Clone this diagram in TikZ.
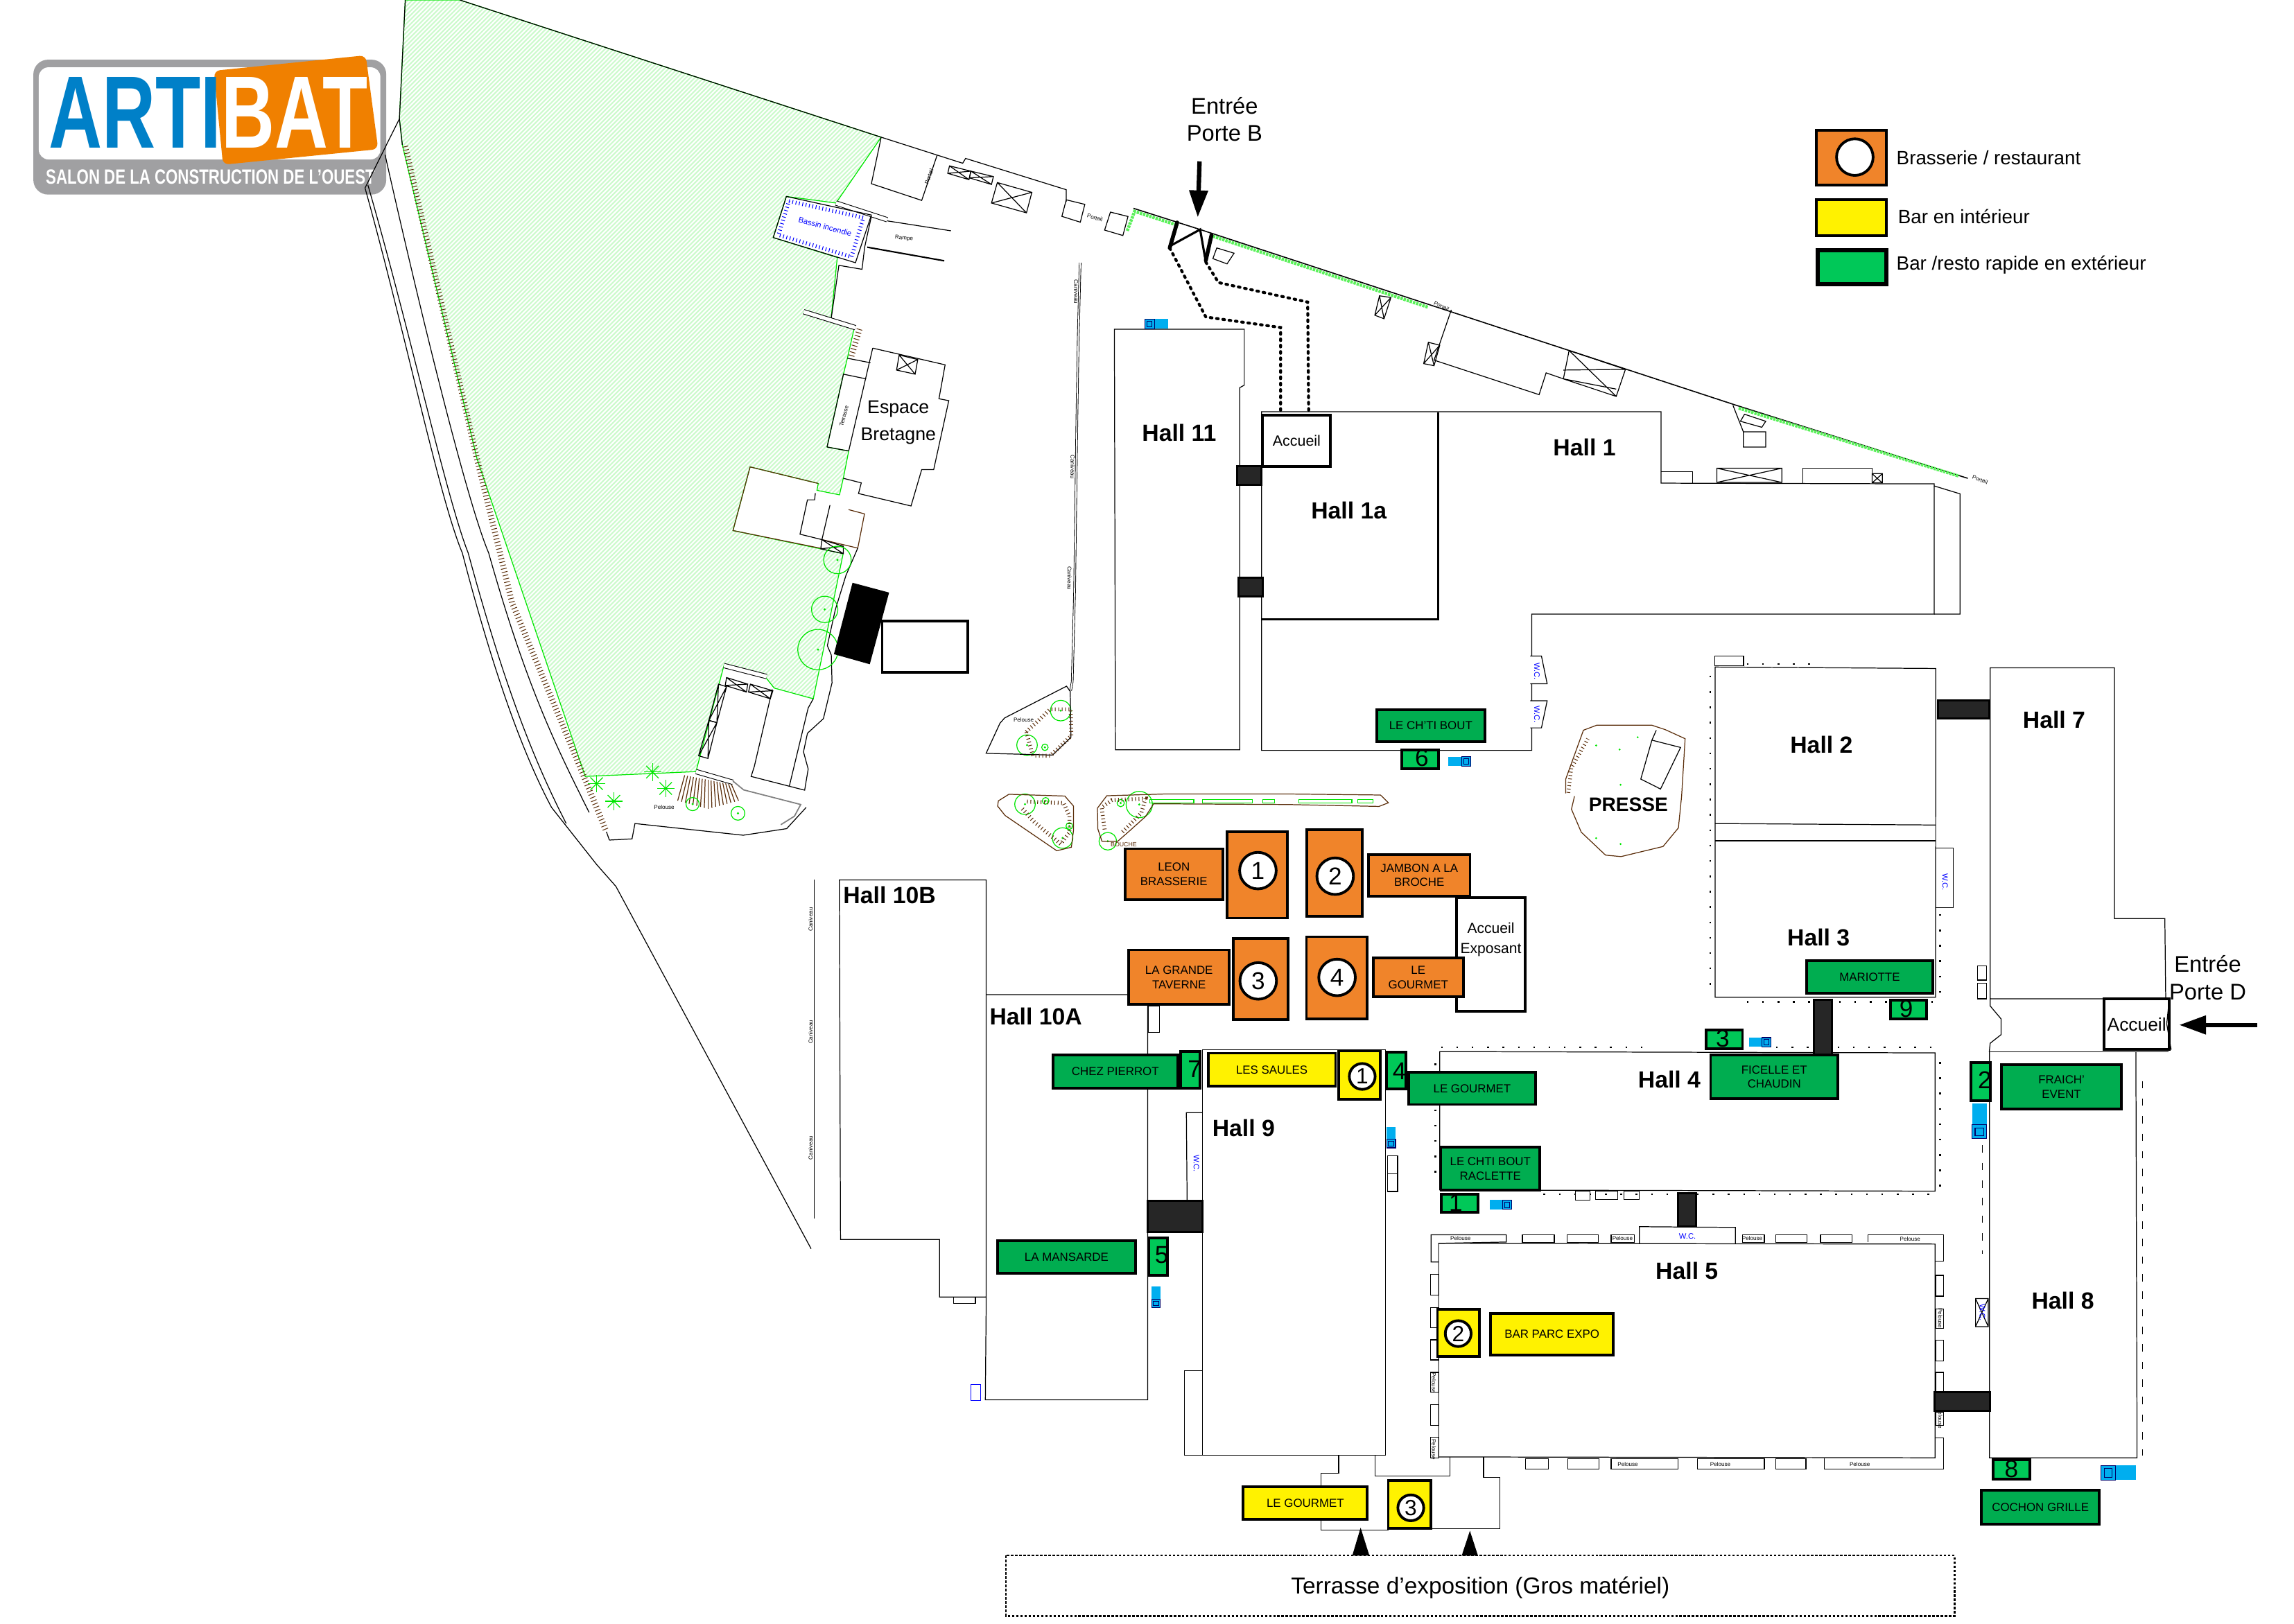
\documentclass[tikz,border=0pt]{standalone}
\usepackage{graphicx}
\usepackage{fontspec}
\setmainfont{Liberation Sans}
\usepackage{tikz}
\usetikzlibrary{arrows.meta}
\usetikzlibrary{calc}
\definecolor{orangebar}{RGB}{240,132,42}
\definecolor{logoorange}{RGB}{240,128,0}
\definecolor{logoblue}{RGB}{0,128,200}
\definecolor{logogray}{RGB}{160,160,162}
\definecolor{greenbar}{RGB}{0,173,80}
\definecolor{greensmall}{RGB}{0,200,88}
\definecolor{darkbridge}{RGB}{38,38,38}
\definecolor{truckblue}{RGB}{0,174,239}
\definecolor{lawnstripe}{RGB}{204,250,204}
\definecolor{treegreen}{RGB}{0,230,0}
\definecolor{hedgegreen}{RGB}{90,240,90}
\definecolor{hedgebrown}{RGB}{90,45,10}
\tikzset{
    thinwall/.style={draw=black, line width=.35pt},
    thickwall/.style={draw=black, line width=1.1pt},
    brownline/.style={draw=hedgebrown, line width=.35pt},
    treeline/.style={draw=treegreen, line width=.35pt},
    hedgeline/.style={draw=hedgegreen, line width=1.3pt, dash pattern=on 1pt off .35pt},
    tickrow/.style={line width=2.4pt, dash pattern=on .3pt off 1.1pt},
    dotrow/.style={draw=black, line width=.7pt, dash pattern=on .7pt off 5.6pt},
    wallband/.style={draw=black, line width=.3pt, double=white, double distance=1.5pt},
    orangebox/.style={draw=black, line width=1.1pt, fill=orangebar},
    yellowbox/.style={draw=black, line width=1.1pt, fill=yellow},
    greenbox/.style={draw=black, line width=1.1pt, fill=greenbar},
    smallbox/.style={draw=black, line width=1.1pt, fill=greensmall},
    whitebox/.style={draw=black, line width=1.1pt, fill=white},
    bridgebox/.style={draw=black, line width=.9pt, fill=darkbridge},
    boxlabel/.style={inner sep=0pt, align=center, font=\fontsize{4.8}{5.8}\selectfont},
    halllabel/.style={inner sep=0pt, font=\bfseries\fontsize{9.6}{11}\selectfont},
    plainlabel/.style={inner sep=0pt, align=center, font=\fontsize{9.3}{11.3}\selectfont},
    legendlabel/.style={inner sep=0pt, anchor=west, font=\fontsize{7.9}{10}\selectfont},
    digitlabel/.style={inner sep=0pt, font=\fontsize{10}{12}\selectfont},
    tinylabel/.style={inner sep=0pt, font=\fontsize{2.3}{3}\selectfont},
    bluelabel/.style={inner sep=0pt, text=blue, font=\fontsize{3.2}{4}\selectfont},
    numcircle/.style={draw=black, line width=1.1pt, fill=white},
    accesspath/.style={draw=black, line width=1.2pt, line cap=round, dash pattern=on .7pt off 1.9pt},
    enterarrow/.style={draw=black, line width=1.8pt, -{Triangle[length=11pt,width=7.4pt]}},
    truck/.pic={
        \fill[truckblue] (-8,-3.3) rectangle (8,3.3);
        \draw[draw=black!60!blue, line width=.3pt, fill=truckblue] (-8,-3.3) rectangle (-1.5,3.3);
        \draw[draw=black!60!blue, line width=.3pt] (-6.5,-2) rectangle (-3,2);
    }
}
\newcommand{\crossbox}[4]{\draw[thinwall] #1 -- #2 -- #3 -- #4 -- cycle #1 -- #3 #2 -- #4;}
\def\lawnpath{(277,0) -- (314.3,0) -- (602.3,93.8) -- (571.4,138.8) -- (537.5,134.3) -- (528.5,162.4) -- (572.3,176) -- (568,218.6) -- (583.8,224.6) -- (579.2,244.9) -- (576.5,255.8) -- (565.3,305.6) -- (580.1,308.3) -- (576.5,326.5) -- (573.8,338.3) -- (558.4,335.2) -- (559.3,330.5) -- (512.7,319.2) -- (501,362.7) -- (561,375.2) -- (576.3,378.5) -- (555.9,477.7) -- (529.2,470.4) -- (522,461.4) -- (494.8,455) -- (475.7,527.5) -- (400,530.8) -- (326,313.6) -- (275,99) -- (273,81.2) -- cycle}
\begin{document}
\begin{tikzpicture}[x=.6pt,y=-.6pt]
        \useasboundingbox (0,0) rectangle (1568,1109.8);

        \fill[logogray, rounded corners=6pt] (22.8,40.8) rectangle (264,133);
        \fill[white, rounded corners=4pt] (26.5,46) rectangle (260,109);
        \fill[logoorange, rounded corners=2.5pt] (146.2,48.4) -- (250,37.8) -- (258.5,102) -- (152.4,112.6) -- cycle;
        \node[inner sep=0pt, text=logoblue] (artilogo) at (92.3,77) {\resizebox{70.8pt}{29pt}{\bfseries ARTI}};
        \node[inner sep=0pt, text=white] (batlogo) at (201.4,77) {\resizebox{60pt}{29pt}{\bfseries BAT}};
        \node[inner sep=0pt, text=white] (salonlogo) at (143.8,121) {\resizebox{134.9pt}{5.9pt}{\bfseries SALON DE LA CONSTRUCTION DE L’OUEST}};

        \begin{scope}
            \clip \lawnpath;
            \foreach \c in {270,273,...,1140}
                \draw[lawnstripe, line width=.6pt] (\c,0) -- ({\c-540},540);
        \end{scope}
        \draw[treeline] \lawnpath;

        \draw[thinwall] (277,0) -- (273,81.2) -- (275,99);
        \draw[thinwall] (273,81.2) -- (249.5,128.5);
        \draw[thinwall] (249.5,128.5) .. controls (277,227) and (300,340) .. (316,378) .. controls (340,470) and (360,520) .. (377,552) -- (407.8,591) -- (421,606) -- (554.4,853.7);
        \draw[thinwall] (251.5,126.6) .. controls (280,225) and (305,340) .. (320,378) .. controls (345,470) and (365,520) .. (387,563);
        \draw[thinwall] (263.2,105.8) .. controls (290,225) and (320,345) .. (334,378) .. controls (360,470) and (380,510) .. (402.7,555.4);
        \draw[hedgebrown, tickrow] (277,100) -- (326,313.6) -- (350,412) -- (400,533) -- (414.5,568.6);

        \draw[thinwall] (314.3,0) -- (602.3,93.8) -- (658,111.6) -- (660,108.3) -- (728.8,129.7) -- (728.8,138);
        \draw[thinwall] (602.3,93.8) -- (595.6,125.6) -- (630,137) -- (640.5,106.2);
        \crossbox{(649,113.4)}{(663.6,117)}{(662.3,122.8)}{(647.8,118.5)}
        \crossbox{(663.6,117)}{(679,120.7)}{(677.7,126.1)}{(662.6,121.6)}
        \crossbox{(681.7,124.8)}{(705.3,131.5)}{(701.6,145.5)}{(677.7,138.8)}
        \draw[thinwall] (728.8,136.6) -- (741.5,139.7) -- (738.4,151.9) -- (725.8,147.9) -- cycle;
        \draw[thinwall] (759,145) -- (771,148) -- (767.5,161) -- (755,157.3) -- cycle;
        \node[tinylabel, rotate=70] (portaila) at (635,120.7) {Portail};
        \node[tinylabel, rotate=-15] (portailb) at (748.4,148.8) {Portail};
        \node[tinylabel, rotate=-25] (portailc) at (985.3,209.4) {Portail};
        \node[tinylabel, rotate=-20] (portaild) at (1353.4,327.9) {Portail};

        \draw[wallband] (571.4,138.8) -- (606.4,150.2);
        \draw[thinwall] (537.5,134.3) -- (595.6,147) -- (584.7,179.6) -- (528.5,162.4) -- cycle;
        \draw[blue, tickrow, line width=1.6pt] (539.3,137.5) -- (590.1,148.8) -- (582,175.6) -- (532.1,160.6) -- cycle;
        \node[bluelabel, rotate=-15] (bassin) at (564,155) {Bassin incendie};
        \draw[thinwall] (606.4,151) -- (650,157.8);
        \draw[thinwall, line width=.6pt] (592.8,169) -- (645.4,178.3);
        \node[tinylabel, rotate=-5] (rampe) at (617.9,162.9) {Rampe};
        \draw[thinwall] (595.6,147.9) -- (591,169) -- (589.2,184.1) -- (573.4,181.4) -- (568,218.6);
        \draw[wallband] (549.3,213.1) -- (584.7,224);
        \draw[hedgebrown, tickrow] (587.5,225) -- (581.5,245);

        \draw[thinwall] (596.5,238) -- (646,249.4) -- (641.8,272.6) -- (648.5,273.9) -- (638.2,321) -- (630,321) -- (622.7,345.9) -- (586.8,337.4) -- (588.7,330.1) -- (576.5,327);
        \draw[thinwall] (596.5,238) -- (580.1,308.3);
        \draw[thinwall] (565.3,305.6) -- (576.5,255.8) -- (592,259);
        \draw[thinwall] (579.2,244.9) -- (595,248);
        \draw[thinwall] (565.3,305.6) -- (580.1,308.3);
        \crossbox{(614.6,242.7)}{(627.3,245.8)}{(625.5,255.8)}{(612.8,253)}
        \node[tinylabel, rotate=75] (terrasseb) at (576.9,284.4) {Terrasse};
        \node[plainlabel, font=\fontsize{7.6}{11}\selectfont] (bretagne) at (614,289) {Espace\\Bretagne};

        \draw[thinwall] (557.3,337.1) -- (556.8,341.7) -- (551.9,341.7) -- (546.8,365.2) -- (561.8,368.9) -- (567.3,345.3);
        \draw[brownline] (559.3,330.5) -- (512.7,319.2) -- (501,362.7) -- (561.8,375);
        \draw[brownline] (580,348.4) -- (590.9,351.3) -- (586.3,374.7) -- (561.8,368.9);
        \crossbox{(561.8,368.9)}{(576.4,373.4)}{(576.4,378.5)}{(561,375.2)}
        \draw[thinwall] (586.3,374.7) -- (578.2,393.4) -- (570.9,417) -- (565.5,441.4) -- (568.2,447.8) -- (568.7,466.8) -- (562.8,491.3) -- (551.9,501.3) -- (549.2,514) -- (552.4,525.7) -- (550,540.2) -- (539.5,537.5) -- (513.4,530.8) -- (515.6,523.9) -- (527.9,471.3);
        \draw[thinwall] (555.9,477.7) -- (552.4,484) -- (548.2,501.3) -- (539.5,537.5);
        \crossbox{(496.6,463.2)}{(511.1,467.7)}{(510.2,473.1)}{(495.7,468.6)}
        \crossbox{(512.9,467.7)}{(528.3,472.2)}{(526.5,477.7)}{(511.6,473.1)}
        \crossbox{(491.1,467.7)}{(496.6,469.5)}{(490,494)}{(484.5,492.5)}
        \crossbox{(484.5,492.5)}{(490,494)}{(483.9,518.5)}{(477.5,516.7)}
        \draw[wallband] (494.8,455) -- (524,462.5);
        \draw[wallband] (475.7,527.5) -- (501,534.8);
        \foreach \k in {0,...,16}
            \draw[brownline] ({468+2*\k},{530+.4*\k}) -- ({468+2*\k+(\k-8)*.6},{553-abs(\k-8)*.7});

        \draw[thinwall] (416.5,574.3) -- (432,573.5) -- (434,563) -- (508,571) -- (537.7,566.5) -- (551,552);
        \draw[thinwall] (414.5,568.6) -- (416.5,574.3);
        \draw[gray, line width=.5pt] (501,534) -- (508.3,540) -- (547.3,550) -- (543,558) -- (533.7,563.8);
        \node[tinylabel] (pelousea) at (454,552) {Pelouse};

        \foreach \tx/\ty/\tr in {572.4/382.8/9.4, 563.7/416.6/9, 559.1/444.1/13.8, 504.4/556/4.7, 473.4/549.7/4.5, 725/485.8/7, 702/509.4/7, 714.2/510.9/2.2, 700.6/549.8/7, 726.3/572.9/7, 714.7/547.5/2.3, 730.9/564.7/2.3, 778.7/550/9, 757.2/575.1/6, 766/549/2.5} {
            \draw[treeline] (\tx,\ty) circle (\tr);
            \fill[treegreen] (\tx,\ty) circle (.8);
        }
        \foreach \sx/\sy in {407.8/535.7, 419.6/547.8, 446/527.8, 455/539}
            \foreach \a in {0,45,...,315}
                \draw[treeline] (\sx,\sy) -- ++(\a:6);

        \fill[black] (582.7,398.4) -- (607.7,405.1) -- (594.5,454.1) -- (570,447.2) -- cycle;
        \draw[thickwall, fill=white] (603,424.7) rectangle (661.4,459.5);

        \draw[thinwall, double=white, double distance=.5pt, line width=.25pt] (738.3,179.6) -- (737,230.4) -- (736.1,284.8) -- (734.5,404.2) -- (732.9,465.9) -- (731.8,472.2);
        \node[tinylabel, rotate=-90] (canala) at (735.5,199.5) {Caniveau};
        \node[tinylabel, rotate=-90] (canalb) at (733.2,319.1) {Caniveau};
        \node[tinylabel, rotate=-90] (canalc) at (731.1,395.3) {Caniveau};

        \draw[thinwall] (674,515) -- (683.5,494.4) -- (686.7,490.8) -- (729,469.1) -- (731.5,472.7) -- (732,504.1) -- (719.4,516.2) -- cycle;
        \draw[hedgebrown, tickrow, line width=1.6pt] (701.5,500.3) -- (717.8,484.9) -- (731.8,484.9) -- (732.3,503) -- (717.8,516.7) -- (706,516.7) -- cycle;
        \node[tinylabel] (pelouseb) at (699.7,492.2) {Pelouse};
        \draw[brownline] (682.4,547.5) -- (689.6,543) -- (727.8,544.2) -- (733.8,551.1) -- (733.8,567.4) -- (732.3,579.2) -- (722.3,581.6) -- (687,557.5) -- (681.9,551.1) -- cycle;
        \draw[hedgebrown, tickrow, line width=1.6pt] (702,548) -- (727,549) -- (731,558) -- (731,569) -- (725,577) -- (707,562) -- (698,552);
        \draw[brownline] (750.1,552.5) -- (756.5,544) -- (796.6,542.8) -- (880.2,542.8) -- (943.6,543.5) -- (949,548.8) -- (942.6,551.3) -- (880,550) -- (788.5,549.5) -- (783,558.2) -- (772.2,567.9) -- (764,575.1) -- (753.2,575.1) -- (750.4,566.7) -- cycle;
        \draw[hedgebrown, tickrow, line width=1.6pt] (755,567) -- (753,552) -- (760,547) -- (783,546) -- (780,556) -- (766,570);
        \foreach \gx/\gy in {786/816, 822/856, 863/871, 887.6/924, 928/938.4}
            \draw[treeline] (\gx,546.5) rectangle (\gy,549);
        \node[inner sep=0pt, text=hedgebrown, font=\fontsize{2.5}{3}\selectfont] (bouche) at (768.1,577.5) {BOUCHE};

        \draw[thinwall, line width=.45pt] (774.7,142.4) -- (820.3,156.9) -- (1186.5,277) -- (1345,327);
        \draw[hedgeline] (770.5,157.8) -- (775.5,144.5) -- (803.4,153.5);
        \draw[hedgeline] (829,161.5) -- (976,210);
        \draw[hedgeline] (1188.4,279) -- (1339,325.5);
        \draw[thinwall] (992,211.8) -- (980.2,246.2) -- (1052,269.8) -- (1056.8,254.9) -- (1068.6,259);
        \draw[thinwall] (1072.5,239.6) -- (1068.6,259) -- (1104.7,271) -- (1111,252.5) -- cycle (1072.5,239.6) -- (1104.7,271) (1068.6,253) -- (1111,252.5) (1068.6,259) -- (1104.7,266);
        \crossbox{(942.9,202.2)}{(950.7,203.4)}{(946,217.9)}{(939.7,215.5)}
        \crossbox{(976.3,234)}{(984.1,236)}{(980.2,250)}{(973.1,248.6)}
        \draw[thinwall] (1184.5,277.1) -- (1191.6,295.2) -- (1191.6,305.6) -- (1206.9,305.6) -- (1206.9,295.2) -- (1191.6,295.2);
        \draw[thinwall] (1192.4,283.2) -- (1206.9,288) -- (1204.2,292.1) -- (1189.6,288) -- cycle;
        \draw[thinwall] (831.7,169.5) -- (843.5,173.1) -- (838.7,180.4) -- (829,176.8) -- cycle;

        \draw[line width=1.6pt, line cap=round] (804.6,152.1) -- (799.5,169.5);
        \draw[line width=.9pt] (799.5,168.3) -- (820.3,156.9) -- (824.2,179.2);
        \draw[line width=1.6pt, line cap=round] (828.1,160.6) -- (824.2,178);
        \draw[accesspath] (799.5,169.5) -- (824.2,216.7) -- (875.3,223.9) -- (875.3,281.5);
        \draw[accesspath] (824.2,179.2) -- (832.9,193.2) -- (893.8,206.5) -- (894.5,281.5);
        \coordinate (portebtail) at (819.9,110.3);
        \coordinate (portebtip) at (818.7,148.5);
        \draw[enterarrow] (portebtail) -- (portebtip);
        \node[plainlabel] (porteb) at (837,81.5) {Entrée\\Porte B};

        \draw[thinwall] (761.7,225.1) -- (850.5,225.1) -- (850.5,263.3) -- (847.4,265) -- (847.4,512.6) -- (762.4,512.6) -- cycle;
        \draw[thinwall] (862.3,281.5) -- (1135.4,281.5) -- (1135.4,330.3) -- (1322,330.8) -- (1322,419.8) -- (1047,419.8) -- (1047,513) -- (862.3,513) -- cycle;
        \draw[thinwall] (1322,332.2) -- (1339.7,337.6) -- (1339.7,419.8) -- (1322,419.8);
        \draw[thinwall] (1135.4,322.6) -- (1157,322.6) -- (1157,330.3);
        \crossbox{(1173.5,320.1)}{(1217.9,320.1)}{(1217.9,329.8)}{(1173.5,329.8)}
        \draw[thinwall] (1232.4,330.3) -- (1232.4,320.1) -- (1279.6,320.1) -- (1279.6,330.3);
        \crossbox{(1279.6,323.8)}{(1286.6,323.8)}{(1286.6,330.2)}{(1279.6,330.2)}
        \draw[thickwall] (983,282) -- (983,423.4) -- (862.3,423.4);
        \draw[thinwall, fill=white] (1046,448.5) -- (1053.6,448.5) -- (1057.5,467.4) -- (1046,467.4);
        \draw[thinwall, fill=white] (1046,479.1) -- (1057.5,479.1) -- (1053.6,497.6) -- (1046,497.6);

        \draw[thinwall] (1172.3,456) -- (1323.1,457) -- (1323,681.8) -- (1172.3,681.8) -- cycle;
        \draw[thinwall] (1172.3,563) -- (1323,564);
        \draw[thinwall] (1172.3,574.8) -- (1323,574.8);
        \draw[thinwall] (1172,455) rectangle (1191.7,448.5);
        \draw[thinwall] (1323,579.7) -- (1335.2,579.7) -- (1335.2,620.5) -- (1323,620.5);
        \draw[thinwall] (1360.3,456.5) -- (1445.2,456.5) -- (1445.2,628) -- (1479.7,628) -- (1480.3,682.8) -- (1360.3,682.8) -- cycle;
        \draw[thinwall] (1360.3,682.8) -- (1360.3,687.7) -- (1367.8,696.6) -- (1367.8,707.3) -- (1360.3,713.2) -- (1359.7,719.1);
        \draw[thinwall] (1351.8,660.2) rectangle (1357.9,670);
        \draw[thinwall] (1351.8,672) rectangle (1357.9,682.8);
        \draw[thinwall] (984.1,718.9) -- (1322.6,719.8) -- (1322.6,814.3) -- (984.1,813.5) -- cycle;
        \draw[thinwall] (1077,814.3) rectangle (1086.9,820.6);
        \draw[thinwall] (1090.5,814.3) rectangle (1105.9,820);
        \draw[thinwall] (1109.9,814.3) rectangle (1120.5,820);
        \draw[thinwall] (983.3,850) -- (1322.6,850.5) -- (1322.6,996.6) -- (983.3,996) -- cycle;
        \draw[thinwall] (1120.5,850.5) -- (1120.5,838.6) -- (1186.2,839.1) -- (1186.2,850.5);
        \draw[thinwall] (983.3,862.8) -- (978.2,862.8) -- (978.2,844.2) -- (1029.6,844.2) -- (1029.6,849.1) -- (983.3,850);
        \draw[thinwall] (1276.8,849) -- (1276.8,844.2) -- (1328.6,844.2) -- (1328.6,862) -- (1322.6,862);
        \foreach \ax/\bx in {1040.6/1062.4, 1071.1/1092.5, 1101.2/1117, 1190.9/1206, 1213.9/1235.2, 1244.3/1266}
            \draw[thinwall] (\ax,844.2) rectangle (\bx,849.4);
        \foreach \ay/\by in {871.3/885.5, 894/907.5, 916/929.7, 938.2/951.9, 960.2/974.4, 982.4/996.6}
            \draw[thinwall] (977.8,\ay) rectangle (983.3,\by);
        \foreach \ay/\by in {871.9/886.1, 894.7/908.3, 916.3/930.5, 938.2/951.6, 965.3/974.4}
            \draw[thinwall] (1323.4,\ay) rectangle (1328.6,\by);
        \foreach \ax/\bx in {1042.6/1058.4, 1071.5/1092.9, 1101.2/1147, 1160.1/1206, 1213.9/1234.4}
            \draw[thinwall] (\ax,997.2) rectangle (\bx,1004.3);
        \draw[thinwall] (1322.6,983) -- (1328.6,983) -- (1328.6,1004.3) -- (1247.1,1004.3) -- (1247.1,997.2);
        \foreach \lx/\ly in {998.3/846.8, 1109/846.8, 1197.7/846.8, 1305.6/847.1, 1112.6/1000.9, 1175.9/1000.9, 1271.2/1000.9}
            \node[tinylabel] (pel\lx) at (\lx,\ly) {Pelouse};
        \foreach \lx/\ly in {980.1/945.3, 980.1/990.9, 1326.2/901.2, 1326.2/969.5}
            \node[tinylabel, rotate=-90] (pel\ly) at (\lx,\ly) {Pelouse};

        \draw[thinwall] (821.8,717.7) -- (946.9,717.7) -- (946.9,994.9) -- (821.8,994.9) -- cycle;
        \draw[thinwall] (821.8,937.2) -- (809.5,937.2) -- (809.5,994.9) -- (821.8,994.9);
        \draw[thinwall] (821.8,760.6) -- (810.9,760.6) -- (811.4,820.7);
        \draw[thinwall] (674.1,680) -- (784.5,680) -- (784.5,957) -- (673.5,957) -- (674.1,886.7);
        \draw[thinwall] (573.7,601.5) -- (674.1,601.5) -- (674.1,886.7) -- (642.2,886.7) -- (642.2,847.4) -- (574.5,847.4) -- cycle;
        \draw[thinwall] (651.8,886.7) rectangle (666.7,891);
        \draw[thinwall] (785,687.6) rectangle (792.6,705.7);
        \draw[thinwall] (948.5,790.3) rectangle (955.3,814.5);
        \draw[thinwall] (948.5,802.4) -- (955.3,802.4);
        \draw[thinwall, double=white, double distance=.5pt, line width=.25pt] (556,601.5) -- (556,833.2);
        \foreach \cy in {628.6,705.5,784.7}
            \node[tinylabel, rotate=90] (can\cy) at (554,\cy) {Caniveau};
        \draw[blue, line width=.3pt] (663.7,946.4) rectangle (670.3,957.6);

        \draw[thinwall] (915,994.9) -- (915,1007) -- (903,1007) -- (903,1016);
        \draw[thinwall] (903,1038.5) -- (903,1046) -- (949,1046);
        \draw[thinwall] (940,994.9) -- (940,1009) -- (991,1009) -- (991,996);
        \draw[thinwall] (1014,996) -- (1014,1010) -- (1025,1010) -- (1025,1045) -- (978,1045);

        \draw[thinwall] (1359.8,718.9) -- (1482,718.9);
        \draw[thinwall] (1359.8,718.9) -- (1359.8,996.6) -- (1460.7,996.6) -- (1459.9,718.9);
        \draw[dotrow] (985,716) -- (1125,716);
        \draw[dotrow] (1214,716) -- (1325,716);
        \draw[dotrow] (1055,816.5) -- (1325,816.5);
        \draw[dotrow] (1326,726) -- (1326,816);
        \draw[dotrow] (981,727) -- (981,810);
        \draw[dotrow] (1169,462) -- (1169,680);
        \draw[dotrow] (1194,685) -- (1326,685);
        \draw[dotrow] (1326,625) -- (1326,680);
        \draw[dotrow] (1194,454) -- (1240,454);
        \draw[black, line width=.35pt, dash pattern=on 3pt off 4.2pt] (1464.6,739) -- (1464.6,995);
        \draw[black, line width=.35pt, dash pattern=on 3pt off 4.2pt] (1355,783) -- (1355,857);
        \crossbox{(1350.3,887.8)}{(1359,887.8)}{(1359,906.9)}{(1350.3,906.9)}

        \draw[brownline] (1091.3,495.8) -- (1129.1,495.8) -- (1138.2,498.8) -- (1151.8,505) -- (1149.4,544.3) -- (1147.2,566) -- (1136.7,578.7) -- (1108,585.6) -- (1097.4,584.6) -- (1080.8,568.9) -- (1074.1,553.2) -- (1076.2,544.3);
        \draw[brownline] (1091.3,495.8) -- (1082.3,499.2) -- (1070.2,532.6) -- (1070.2,542.4);
        \draw[hedgebrown, tickrow, line width=1.5pt] (1072,542) -- (1074,525) -- (1085.3,505.1);
        \draw[thinwall] (1132.1,499.2) -- (1129.1,506) -- (1121.5,532.6) -- (1135,539.4) -- (1148.7,511) -- (1129.1,506);
        \foreach \px/\py in {1091/509.6, 1107/512.4, 1119.4/504, 1107.7/536.5, 1091/573, 1107.7/577}
            \fill[treegreen] (\px,\py) circle (.7);

        \draw[bridgebox] (845.4,318.7) rectangle (862.3,331.5);
        \draw[bridgebox] (846.6,394.9) rectangle (863.1,407.7);
        \draw[bridgebox] (1324.6,478.7) rectangle (1359.7,491.3);
        \draw[bridgebox] (1240,683.4) rectangle (1252.1,721.1);
        \draw[bridgebox] (1147,815.8) rectangle (1159.3,838.6);
        \draw[bridgebox] (1322.2,951.6) rectangle (1360.2,964.4);
        \draw[bridgebox] (784.5,821) rectangle (821.8,842.1);

        \pic at (790.5,221.5) {truck};
        \pic[rotate=180, scale=.95] at (1203,712.5) {truck};
        \pic[rotate=180, scale=.95] at (997.5,520.5) {truck};
        \pic[rotate=180, scale=.95] at (1025.8,823.6) {truck};
        \pic[rotate=90, scale=.9] at (790.2,886.8) {truck};
        \pic[rotate=90, scale=.9] at (950.9,777.5) {truck};
        \pic[rotate=90, scale=1.5] at (1353,766.5) {truck};
        \pic[scale=1.5] at (1448,1006.8) {truck};

        \draw[whitebox] (995.5,613.8) rectangle (1042.6,691.2) node[midway, plainlabel, font=\fontsize{6}{8.2}\selectfont, yshift=6pt] (accueilexpo) {Accueil\\Exposant};
        \draw[whitebox] (863.1,283.9) rectangle (909.5,318.7) node[midway, plainlabel, font=\fontsize{6.1}{8}\selectfont] (accueilb) {Accueil};
        \draw[whitebox] (1438.3,683) rectangle (1482.7,717.6) node[midway, plainlabel, font=\fontsize{7.5}{9}\selectfont] (accueild) {Accueil};
        \draw[thinwall] (1482.7,683) -- (1481,700) -- (1484,717.6);

        \draw[orangebox] (768.9,580.2) rectangle (835.8,615) node[midway, boxlabel] (leon) {LEON\\BRASSERIE};
        \draw[orangebox] (838.8,568.6) rectangle (879.9,627.6);
        \draw[orangebox] (893.2,567.4) rectangle (931.3,626.6);
        \draw[orangebox] (935.4,584.1) rectangle (1004.8,612.6) node[midway, boxlabel] (jambon) {JAMBON A LA\\BROCHE};
        \draw[orangebox] (938.7,654.9) rectangle (1000.1,681.5) node[midway, boxlabel] (gourmeto) {LE\\GOURMET};
        \draw[orangebox] (771.6,649.4) rectangle (840.2,686.8) node[midway, boxlabel] (taverne) {LA GRANDE\\TAVERNE};
        \draw[orangebox] (842.9,641.6) rectangle (880.5,697.2);
        \draw[orangebox] (893,640.4) rectangle (934.3,696.5);
        \node[numcircle, circle, inner sep=0pt, minimum size=15pt, digitlabel] (brasa) at (859.8,595.2) {1};
        \node[numcircle, circle, inner sep=0pt, minimum size=15pt, digitlabel] (brasb) at (912.6,599) {2};
        \node[numcircle, circle, inner sep=0pt, minimum size=15pt, digitlabel] (brasc) at (860,670.6) {3};
        \node[numcircle, circle, inner sep=0pt, minimum size=15pt, digitlabel] (brasd) at (913.9,668.2) {4};

        \draw[yellowbox] (825.8,720) rectangle (912.9,742.5) node[midway, boxlabel] (saules) {LES SAULES};
        \draw[yellowbox] (914.8,718.4) rectangle (943.3,751.4);
        \draw[yellowbox] (982.5,895) rectangle (1011,927.4);
        \draw[yellowbox] (1018.9,897.8) rectangle (1102.7,926.3) node[midway, boxlabel] (barparc) {BAR PARC EXPO};
        \draw[yellowbox] (849.8,1016.4) rectangle (934.6,1038.5) node[midway, boxlabel] (gourmety) {LE GOURMET};
        \draw[yellowbox] (948.9,1012.3) rectangle (978.2,1045);
        \node[numcircle, circle, inner sep=0pt, minimum size=10.6pt, digitlabel, font=\fontsize{9}{11}\selectfont] (bara) at (931.1,735.9) {1};
        \node[numcircle, circle, inner sep=0pt, minimum size=10.6pt, digitlabel, font=\fontsize{9}{11}\selectfont] (barb) at (996.7,911.7) {2};
        \node[numcircle, circle, inner sep=0pt, minimum size=10.6pt, digitlabel, font=\fontsize{9}{11}\selectfont] (barc) at (964.3,1030.8) {3};

        \draw[greenbox] (940.9,485.3) rectangle (1015,507) node[midway, boxlabel] (chtibout) {LE CH’TI BOUT};
        \draw[greenbox] (1234.9,656.7) rectangle (1321,678.9) node[midway, boxlabel] (mariotte) {MARIOTTE};
        \draw[greenbox] (1169.2,721.2) rectangle (1256.2,751.1) node[midway, boxlabel] (ficelle) {FICELLE ET\\CHAUDIN};
        \draw[greenbox] (962.7,733.2) rectangle (1049.7,755.1) node[midway, boxlabel] (gourmetg) {LE GOURMET};
        \draw[greenbox] (984.9,784.4) rectangle (1052.5,813.5) node[midway, boxlabel] (raclette) {LE CHTI BOUT\\RACLETTE};
        \draw[greenbox] (719.8,721) rectangle (804.9,744.1) node[midway, boxlabel] (pierrot) {CHEZ PIERROT};
        \draw[greenbox] (681.7,848) rectangle (776.3,870.5) node[midway, boxlabel] (mansarde) {LA MANSARDE};
        \draw[greenbox] (1368.1,728) rectangle (1450,758) node[midway, boxlabel] (fraich) {FRAICH’\\EVENT};
        \draw[greenbox] (1354.3,1018.8) rectangle (1435,1042.2) node[midway, boxlabel] (cochon) {COCHON GRILLE};

        \draw[smallbox] (958,512.6) rectangle (983.2,525.4);
        \node[digitlabel] (stands) at (971.8,518) {6};
        \draw[smallbox] (806.8,718.7) rectangle (820.4,744.1);
        \node[digitlabel] (standg) at (816.5,731) {7};
        \draw[smallbox] (947.7,719.5) rectangle (960.8,744.6);
        \node[digitlabel] (standd) at (956.6,732.5) {4};
        \draw[smallbox] (985.3,816.3) rectangle (1010.2,828.6);
        \node[digitlabel] (standa) at (995,822.5) {1};
        \draw[smallbox] (785,846.4) rectangle (797.8,871.8);
        \node[digitlabel] (stande) at (794,858) {5};
        \draw[smallbox] (1166.3,704.2) rectangle (1191,716.8);
        \node[digitlabel] (standc) at (1177.5,710) {3};
        \draw[smallbox] (1292,683.8) rectangle (1316.8,696.6);
        \node[digitlabel] (standi) at (1302.9,689.7) {9};
        \draw[smallbox] (1347.2,726.6) rectangle (1360.6,752.3);
        \node[digitlabel] (standb) at (1356.6,738.3) {2};
        \draw[smallbox] (1362.2,998) rectangle (1387.5,1011.4);
        \node[digitlabel] (standh) at (1374.8,1004.3) {8};

        \node[halllabel] (hallk) at (806,296) {Hall 11};
        \node[halllabel] (hallaa) at (922,349) {Hall 1a};
        \node[halllabel] (halla) at (1083,306) {Hall 1};
        \node[halllabel] (hallb) at (1245,509) {Hall 2};
        \node[halllabel] (hallc) at (1243,641) {Hall 3};
        \node[halllabel] (hallg) at (1404,492) {Hall 7};
        \node[halllabel] (halld) at (1141,738) {Hall 4};
        \node[halllabel] (halle) at (1153,869) {Hall 5};
        \node[halllabel] (hallh) at (1410,889) {Hall 8};
        \node[halllabel] (halli) at (850,771) {Hall 9};
        \node[halllabel] (hallja) at (708,695) {Hall 10A};
        \node[halllabel] (halljb) at (608,612) {Hall 10B};
        \node[halllabel, font=\bfseries\fontsize{8}{10}\selectfont] (presse) at (1113,550) {PRESSE};

        \node[bluelabel, rotate=-90] (wca) at (817.7,795.3) {W.C.};
        \node[bluelabel, rotate=-90] (wcb) at (1329.5,602.9) {W.C.};
        \node[bluelabel, rotate=-90] (wcc) at (1050.5,458.9) {W.C.};
        \node[bluelabel, rotate=-90] (wcd) at (1050.5,488.4) {W.C.};
        \node[bluelabel] (wce) at (1153.4,845.1) {W.C.};
        \node[bluelabel, rotate=-90] (wcf) at (1355,897.3) {W.C.};

        \draw[orangebox] (1241.5,89) rectangle (1289.4,126.5);
        \node[numcircle, circle, inner sep=0pt, minimum size=15pt] (legendcircle) at (1267.8,107.4) {};
        \draw[yellowbox] (1241.5,136.4) rectangle (1289.4,161);
        \draw[draw=black, line width=1.6pt, fill=greensmall] (1242.3,171.2) rectangle (1289.4,194.2);
        \node[legendlabel] (legenda) at (1296,108) {Brasserie / restaurant};
        \node[legendlabel] (legendb) at (1297,148) {Bar en intérieur};
        \node[legendlabel] (legendc) at (1296,181) {Bar /resto rapide en extérieur};

        \node[plainlabel] (ported) at (1509,668.5) {Entrée\\Porte D};
        \coordinate (portedtail) at (1543,700.7);
        \coordinate (portedtip) at (1489.5,700.7);
        \draw[enterarrow] (portedtail) -- (portedtip);

        \fill[black] (930,1044.4) -- (924.3,1063.5) -- (936,1063.5) -- cycle;
        \fill[black] (1004.7,1046.5) -- (999.1,1063.5) -- (1010.2,1063.5) -- cycle;
        \draw[black, line width=.6pt, dash pattern=on 1pt off .7pt] (687.7,1063.5) rectangle (1336,1104.8) node[midway, plainlabel, font=\fontsize{9.5}{11.3}\selectfont, yshift=-.8pt] (terrasse) {Terrasse d’exposition (Gros matériel)};
\end{tikzpicture}
\end{document}
